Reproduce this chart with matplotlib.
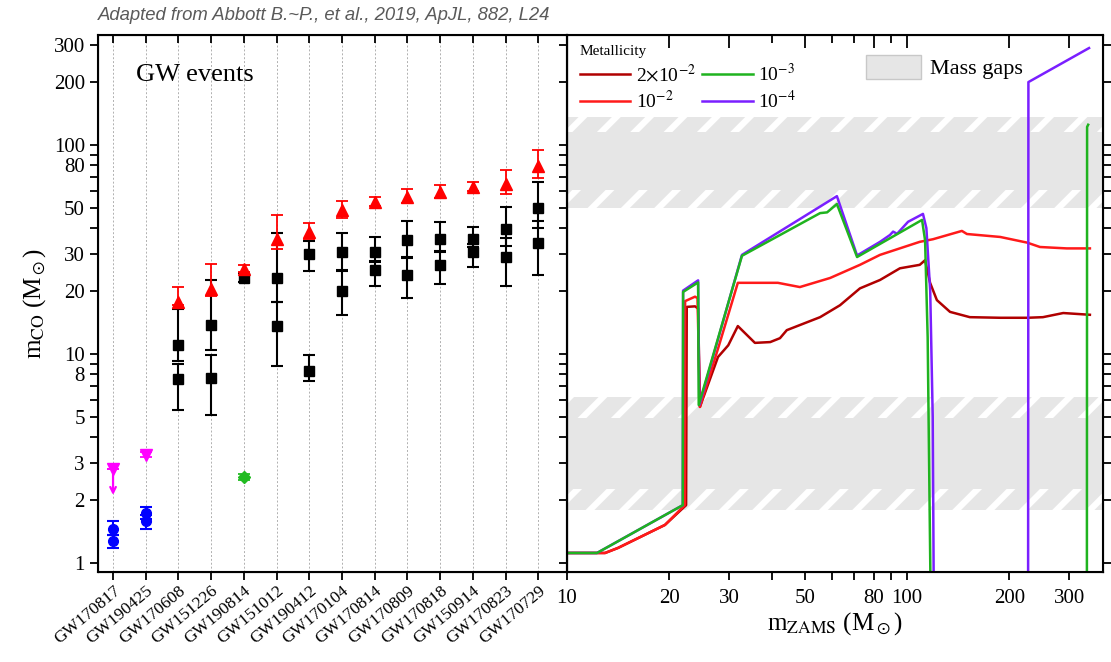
import matplotlib
matplotlib.use('Agg')
import matplotlib.pyplot as plt
import numpy as np
from matplotlib.patches import Patch

plt.rcParams['font.family'] = ['Liberation Serif', 'DejaVu Serif']
plt.rcParams['mathtext.fontset'] = 'stix'
plt.rcParams['hatch.linewidth'] = 4.5

# ---- left panel: GW events ----
events = ['GW170817', 'GW190425', 'GW170608', 'GW151226', 'GW190814', 'GW151012',
          'GW190412', 'GW170104', 'GW170814', 'GW170809', 'GW170818', 'GW150914',
          'GW170823', 'GW170729']

m1_idx = [2, 3, 4, 5, 6, 7, 8, 9, 10, 11, 12, 13]
m1 = [11.0, 13.7, 23.2, 23.2, 30.1, 30.8, 30.6, 35.0, 35.4, 35.6, 39.5, 50.2]
m1_up = [5.5, 8.8, 1.1, 14.9, 4.7, 7.3, 5.6, 8.3, 7.5, 4.8, 11.2, 16.2]
m1_lo = [1.7, 3.2, 1.0, 5.5, 5.1, 5.6, 3.0, 5.9, 4.7, 3.0, 6.7, 10.2]

m2_idx = [2, 3, 5, 6, 7, 8, 9, 10, 11, 12, 13]
m2 = [7.6, 7.7, 13.6, 8.3, 20.0, 25.2, 23.8, 26.7, 30.6, 29.0, 34.0]
m2_up = [1.4, 2.2, 4.1, 1.6, 4.9, 2.8, 5.1, 4.3, 3.0, 6.7, 9.1]
m2_lo = [2.2, 2.6, 4.8, 0.9, 4.6, 4.0, 5.2, 5.2, 4.4, 7.8, 10.1]

mf_idx = [2, 3, 4, 5, 6, 7, 8, 9, 10, 11, 12, 13]
mf = [17.8, 20.5, 25.6, 35.6, 38.5, 48.9, 53.2, 56.3, 59.4, 63.1, 65.4, 79.5]
mf_up = [3.2, 6.4, 1.1, 10.8, 4.0, 5.1, 3.2, 5.2, 4.9, 3.3, 10.1, 14.7]
mf_lo = [0.7, 1.5, 0.9, 3.8, 3.0, 4.0, 2.4, 3.8, 3.8, 3.0, 7.4, 10.2]

ns_idx = [0, 0, 1, 1]
ns_m = [1.46, 1.27, 1.74, 1.59]
ns_up = [0.12, 0.09, 0.11, 0.10]
ns_lo = [0.10, 0.09, 0.12, 0.13]

rem_idx = [0, 1]
rem_m = [2.8, 3.3]
rem_err = [0.0, 0.1]
rem_arrow_to = 2.05

lowgap_idx = [4]
lowgap_m = [2.59]
lowgap_up = [0.08]
lowgap_lo = [0.09]

yticks = [1, 2, 3, 5, 8, 10, 20, 30, 50, 80, 100, 200, 300]
yminor = [4, 6, 7, 9, 40, 60, 70, 90]

# ---- right panel: m_CO vs m_ZAMS ----
z2e2_x = [10, 12.94, 14.13, 19.41, 22.4, 22.5, 23.8, 24.3, 24.6, 27.8, 29.8, 31.8, 35.7,
          39.6, 42.3, 44.3, 55.5, 63.5, 72.7, 83.3, 95.3, 109, 113, 116.9, 122.4, 133.8,
          153, 188, 226, 251, 288, 345]
z2e2_y = [1.116, 1.116, 1.18, 1.52, 1.89, 16.8, 16.9, 16.5, 5.58, 9.67, 11.0, 13.6, 11.3,
          11.4, 11.9, 13.0, 15.0, 17.1, 20.6, 22.6, 25.7, 26.7, 28.1, 21.9, 18.1, 15.9,
          15.0, 14.9, 14.9, 15.0, 15.7, 15.4]

z1e2_x = [10, 12.94, 14.13, 19.41, 22.2, 22.25, 23.8, 24.2, 24.6, 28.0, 31.8, 41.7, 48.4,
          59.4, 72.7, 83.3, 109, 119.2, 145, 150, 188, 225.6, 246, 295, 345]
z1e2_y = [1.116, 1.116, 1.18, 1.52, 1.89, 17.9, 18.8, 18.5, 5.58, 11.0, 21.9, 21.9, 20.9,
          23.1, 26.7, 29.8, 34.4, 35.4, 38.8, 37.5, 36.3, 34.1, 32.5, 32.0, 32.0]

z1e3_x = [10, 12.25, 21.9, 21.95, 24.3, 24.4, 32.7, 55.5, 58.2, 62.2, 71.3, 110.7, 113,
          115, 117.6, np.nan, 338, 338.5, 341]
z1e3_y = [1.116, 1.116, 1.89, 19.8, 22.0, 5.7, 29.5, 47.2, 47.6, 52.2, 29.1, 43.8, 35,
          12, 0.5, np.nan, 0.5, 122, 125]

z1e4_x = [10, 12.25, 21.9, 21.95, 24.3, 24.5, 32.7, 62.2, 71.3, 83.3, 89.1, 91.0, 93.5,
          100.7, 111.4, 114, 117, 119, 120, np.nan, 227, 227.5, 343]
z1e4_y = [1.116, 1.116, 1.89, 20.1, 22.5, 5.7, 29.8, 56.9, 29.6, 34.4, 37.1, 38.5, 37.6,
          42.9, 46.8, 40, 20, 5, 0.5, np.nan, 0.5, 200, 291]

gap_solid = [(2.25, 4.94), (61, 115)]
gap_hatch = [(1.8, 2.25), (4.94, 6.2), (50, 61), (115, 136)]

xticks_r = [10, 20, 30, 50, 80, 100, 200, 300]
xminor_r = [40, 60, 70, 90]

ylim = (0.905, 336)

fig = plt.figure(figsize=(11.11, 6.62), dpi=100)
ax1 = fig.add_axes([98 / 1111, 1 - 572 / 662, (567 - 98) / 1111, (572 - 35) / 662])
ax2 = fig.add_axes([567 / 1111, 1 - 572 / 662, (1103 - 567) / 1111, (572 - 35) / 662])

# left panel
pos = np.arange(len(events))
ax1.errorbar(m1_idx, m1, yerr=[m1_lo, m1_up], fmt='s', color='black', ms=6.5,
             elinewidth=1.5, capsize=4.5, capthick=1.5, zorder=3)
ax1.errorbar(m2_idx, m2, yerr=[m2_lo, m2_up], fmt='s', color='black', ms=6.5,
             elinewidth=1.5, capsize=4.5, capthick=1.5, zorder=3)
ax1.errorbar(mf_idx, mf, yerr=[mf_lo, mf_up], fmt='^', color='red', ms=8.5,
             elinewidth=1.3, capsize=4.5, capthick=1.3, zorder=4)
ax1.errorbar(ns_idx, ns_m, yerr=[ns_lo, ns_up], fmt='o', color='#0000ff', ms=7,
             elinewidth=1.5, capsize=4.5, capthick=1.5, zorder=3)
ax1.errorbar(rem_idx, rem_m, yerr=rem_err, fmt='v', color='#ff00ff', ms=8.5,
             elinewidth=1.3, capsize=4.5, capthick=1.3, zorder=3)
ax1.annotate('', xy=(rem_idx[0], rem_arrow_to), xytext=(rem_idx[0], rem_m[0]),
             arrowprops=dict(arrowstyle='->', color='#ff00ff', lw=1.6))
ax1.errorbar(lowgap_idx, lowgap_m, yerr=[lowgap_lo, lowgap_up], fmt='D', color='#22bb22',
             ms=6, elinewidth=1.3, capsize=4, capthick=1.3, zorder=3)

ax1.set_yscale('log')
ax1.set_ylim(*ylim)
ax1.set_xlim(-0.46, 13.88)
ax1.set_xticks(pos)
ax1.set_xticklabels(events, rotation=40, ha='right', rotation_mode='anchor', fontsize=12.5)
ax1.set_yticks(yticks)
ax1.set_yticklabels([str(v) for v in yticks], fontsize=15)
ax1.set_yticks(yminor, minor=True)
ax1.set_yticklabels([], minor=True)
ax1.grid(axis='x', linestyle=(0, (2, 2)), color='#b0b0b0', lw=0.7)
ax1.tick_params(axis='x', which='both', direction='out', length=6, width=1.3, pad=2)
ax1.tick_params(axis='y', which='both', direction='out', length=6, width=1.3)
ax1.set_ylabel(r'm$_{\rm CO}$ (M$_\odot$)', fontsize=18, labelpad=4)
ax1.text(0.08, 0.925, 'GW events', transform=ax1.transAxes, fontsize=19, va='center')
for s in ax1.spines.values():
    s.set_linewidth(1.5)

# inward ticks along the top of the left panel
top1 = ax1.twiny()
top1.set_xlim(ax1.get_xlim())
top1.set_xticks(pos)
top1.set_xticklabels([])
top1.tick_params(axis='x', direction='in', length=6, width=1.3)

# right panel
for lo, hi in gap_solid:
    ax2.axhspan(lo, hi, facecolor='#e6e6e6', edgecolor='none', lw=0, zorder=0)
for lo, hi in gap_hatch:
    ax2.axhspan(lo, hi, facecolor='#e6e6e6', edgecolor='white', hatch='/', lw=0, zorder=0)

lw = 1.8
l1, = ax2.plot(z2e2_x, z2e2_y, color='#b00000', lw=lw)
l2, = ax2.plot(z1e2_x, z1e2_y, color='#ff1a1a', lw=lw)
l4, = ax2.plot(z1e4_x, z1e4_y, color='#7a1fff', lw=lw)
l3, = ax2.plot(z1e3_x, z1e3_y, color='#1fb31f', lw=lw)

ax2.set_xscale('log')
ax2.set_yscale('log')
ax2.set_xlim(10, 377)
ax2.set_ylim(*ylim)
ax2.set_xticks(xticks_r)
ax2.set_xticklabels([str(v) for v in xticks_r], fontsize=15)
ax2.set_xticks(xminor_r, minor=True)
ax2.set_xticklabels([], minor=True)
ax2.set_yticks(yticks)
ax2.set_yticks(yminor, minor=True)
ax2.set_yticklabels([])
ax2.set_yticklabels([], minor=True)
ax2.tick_params(axis='x', which='both', direction='out', length=6, width=1.3, pad=6)
ax2.tick_params(axis='y', which='both', direction='out', length=6, width=1.3,
                left=True, right=True)
ax2.set_xlabel(r'm$_{\rm ZAMS}$ (M$_\odot$)', fontsize=18, labelpad=2)
for s in ax2.spines.values():
    s.set_linewidth(1.5)

top2 = ax2.twiny()
top2.set_xscale('log')
top2.set_xlim(ax2.get_xlim())
top2.set_xticks(xticks_r)
top2.set_xticks(xminor_r, minor=True)
top2.set_xticklabels([])
top2.set_xticklabels([], minor=True)
top2.tick_params(axis='x', which='both', direction='in', length=6, width=1.3)
top2.tick_params(axis='x', which='major', length=9)

leg1 = ax2.legend([l1, l2, l3, l4],
                  [r'2$\times$10$^{-2}$', r'10$^{-2}$', r'10$^{-3}$', r'10$^{-4}$'],
                  loc='upper left', bbox_to_anchor=(-0.005, 1.01), ncol=2, frameon=False,
                  title='Metallicity', title_fontsize=11, fontsize=14, alignment='left',
                  handlelength=2.6, handletextpad=0.3, columnspacing=0.3,
                  labelspacing=0.25, borderpad=0.3)
ax2.add_artist(leg1)
ax2.legend(handles=[Patch(facecolor='#e6e6e6', edgecolor='#c8c8c8', lw=1)],
           labels=['Mass gaps'], loc='center left', bbox_to_anchor=(0.52, 0.94),
           frameon=False, fontsize=16, handlelength=2.5, handleheight=1.3,
           handletextpad=0.4)

fig.text(98 / 1111, 1 - 15 / 662, 'Adapted from Abbott B.~P., et al., 2019, ApJL, 882, L24',
         family=['Liberation Sans', 'DejaVu Sans'], style='italic', fontsize=13.3,
         color='#5a5a5a', va='center', ha='left')

fig.savefig('out.png', dpi=100)
